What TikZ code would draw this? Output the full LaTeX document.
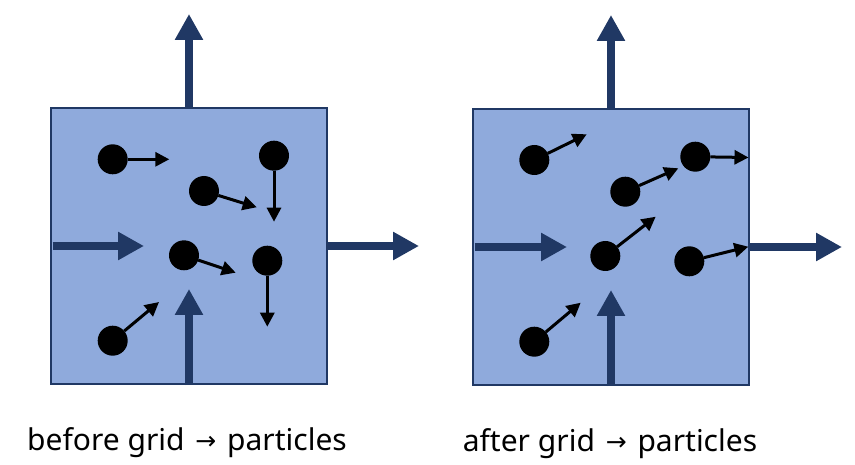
\documentclass[tikz,border=0pt]{standalone}
\usepackage{fontspec}
\setmainfont{Noto Sans}
\newfontfamily\arrowfont{DejaVu Sans}
\usetikzlibrary{arrows.meta}
\definecolor{boxfill}{HTML}{8FAADC}
\definecolor{boxline}{HTML}{203864}
\newcommand{\smallarrow}{\hspace{3pt}\raisebox{1pt}{\arrowfont\fontsize{25}{28}\selectfont →}\hspace{3pt}}
\tikzset{
  gridbox/.style={draw=boxline, fill=boxfill, line width=1.5pt, minimum width=276pt, minimum height=276pt, inner sep=0pt, outer sep=0pt},
  flow/.style={draw=boxline, line width=8.7pt, -{Triangle[width=26.7pt,length=26pt]}},
  dot/.style={circle, fill=black, minimum size=30pt, inner sep=0pt, outer sep=0pt},
  vel/.style={line width=3pt, -{Triangle[width=14pt,length=14pt]}},
  caption/.style={font=\fontsize{30}{34}\selectfont, inner sep=0pt, anchor=base}
}
\begin{document}
\begin{tikzpicture}[x=1pt,y=-1pt]
\useasboundingbox (0,0) rectangle (855,465);
% ---------- before ----------
\node[gridbox] (boxA) at (189,246) {};
\coordinate (A-top) at (189,14);
\coordinate (A-right) at (419,246);
\coordinate (A-in-left) at (144,246);
\coordinate (A-in-bot) at (189,289);
\draw[flow] (boxA.north) -- (A-top);
\draw[flow] (boxA.east) -- (A-right);
\draw[flow] ([xshift=1.5pt]boxA.west) -- (A-in-left);
\draw[flow] ([yshift=-1pt]boxA.south) -- (A-in-bot);
\node[dot] (a1) at (112.7,159.3) {};
\node[dot] (a2) at (204,191) {};
\node[dot] (a3) at (274,155.7) {};
\node[dot] (a4) at (184,255.3) {};
\node[dot] (a5) at (267.3,260.7) {};
\node[dot] (a6) at (112.7,340.7) {};
\coordinate (a1t) at (169.3,159.3);
\coordinate (a2t) at (256.7,207.3);
\coordinate (a3t) at (274,221.7);
\coordinate (a4t) at (235.7,272.7);
\coordinate (a5t) at (267.3,326.7);
\coordinate (a6t) at (159,302);
\draw[vel] (a1) -- (a1t);
\draw[vel] (a2) -- (a2t);
\draw[vel] (a3) -- (a3t);
\draw[vel] (a4) -- (a4t);
\draw[vel] (a5) -- (a5t);
\draw[vel] (a6) -- (a6t);
\node[caption] (capA) at (187,450) {before grid {\smallarrow} particles};
% ---------- after ----------
\node[gridbox] (boxB) at (611,247) {};
\coordinate (B-top) at (611,15);
\coordinate (B-right) at (842,247);
\coordinate (B-in-left) at (567,247);
\coordinate (B-in-bot) at (611,290);
\draw[flow] (boxB.north) -- (B-top);
\draw[flow] (boxB.east) -- (B-right);
\draw[flow] ([xshift=1.5pt]boxB.west) -- (B-in-left);
\draw[flow] ([yshift=-1pt]boxB.south) -- (B-in-bot);
\node[dot] (b1) at (534.3,160) {};
\node[dot] (b2) at (625.3,191.7) {};
\node[dot] (b3) at (695.3,156.7) {};
\node[dot] (b4) at (605.3,256) {};
\node[dot] (b5) at (689.3,261.3) {};
\node[dot] (b6) at (534.3,341.7) {};
\coordinate (b1t) at (586.7,134.3);
\coordinate (b2t) at (678.3,168.3);
\coordinate (b3t) at (748.5,157.5);
\coordinate (b4t) at (655.7,216.7);
\coordinate (b5t) at (748.3,246.7);
\coordinate (b6t) at (580.7,302.7);
\draw[vel] (b1) -- (b1t);
\draw[vel] (b2) -- (b2t);
\draw[vel] (b3) -- (b3t);
\draw[vel] (b4) -- (b4t);
\draw[vel] (b5) -- (b5t);
\draw[vel] (b6) -- (b6t);
\node[caption] (capB) at (610,451) {after grid {\smallarrow} particles};
\end{tikzpicture}
\end{document}
